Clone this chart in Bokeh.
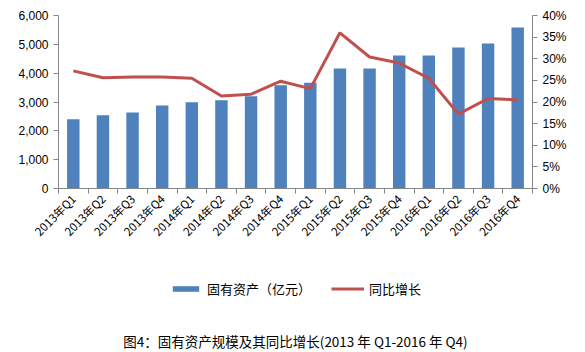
import math
from bokeh.plotting import figure
from bokeh.layouts import column
from bokeh.models import (Range1d, LinearAxis, FixedTicker, NumeralTickFormatter,
                          Legend, LegendItem, Label, ColumnDataSource)
from bokeh.embed import file_html
from bokeh.resources import INLINE

categories = ["2013年Q1", "2013年Q2", "2013年Q3", "2013年Q4",
              "2014年Q1", "2014年Q2", "2014年Q3", "2014年Q4",
              "2015年Q1", "2015年Q2", "2015年Q3", "2015年Q4",
              "2016年Q1", "2016年Q2", "2016年Q3", "2016年Q4"]
assets = [2400, 2540, 2640, 2880, 2990, 3060, 3200, 3580,
          3670, 4160, 4160, 4610, 4610, 4890, 5030, 5580]
growth_pct = [27.2, 25.6, 25.8, 25.8, 25.5, 21.4, 21.8, 24.8,
              23.1, 36.0, 30.4, 29.0, 25.5, 17.2, 20.8, 20.5]
left_ticks = [0, 1000, 2000, 3000, 4000, 5000, 6000]
right_ticks = [0, 5, 10, 15, 20, 25, 30, 35, 40]
bar_name = "固有资产（亿元）"
line_name = "同比增长"
caption = "图4：固有资产规模及其同比增长(2013 年 Q1-2016 年 Q4)"

BAR_COLOR = "#4F81BD"
LINE_COLOR = "#C0504D"
FONT = "Liberation Sans"
CJK = "Noto Sans CJK SC"
AX = "#868686"

n = len(categories)
src = ColumnDataSource(dict(
    x=[i + 0.5 for i in range(n)],
    assets=assets,
    growth=[g / 100 for g in growth_pct],
))

# ---------------- main chart ----------------
p = figure(width=585, height=260, x_range=Range1d(0, n), y_range=Range1d(0, 6000),
           output_backend="svg", toolbar_location=None,
           min_border_left=58, min_border_right=53, min_border_top=15,
           min_border_bottom=72, outline_line_color=None,
           x_axis_type=None, y_axis_type=None)
p.xgrid.visible = False
p.ygrid.visible = False
p.extra_y_ranges = {"pct": Range1d(0, 0.4)}

p.vbar(x="x", top="assets", width=0.42, source=src,
       fill_color=BAR_COLOR, line_color=None)
p.line(x="x", y="growth", source=src, y_range_name="pct",
       line_color=LINE_COLOR, line_width=3)

xaxis = LinearAxis(ticker=FixedTicker(ticks=[i + 0.5 for i in range(n)],
                                      minor_ticks=list(range(n + 1))))
xaxis.major_label_overrides = {i + 0.5: c for i, c in enumerate(categories)}
xaxis.major_tick_line_color = None
xaxis.minor_tick_out = 5
xaxis.minor_tick_in = 0
xaxis.minor_tick_line_color = AX
xaxis.axis_line_color = AX
xaxis.major_label_orientation = math.pi / 4
xaxis.major_label_text_font = CJK
xaxis.major_label_text_font_size = "11.5px"
xaxis.major_label_text_color = "#000000"
xaxis.major_label_standoff = 2
p.add_layout(xaxis, "below")

yl = LinearAxis(ticker=FixedTicker(ticks=left_ticks),
                formatter=NumeralTickFormatter(format="0,0"))
yl.axis_line_color = AX
yl.major_tick_line_color = AX
yl.major_tick_out = 5
yl.major_tick_in = 0
yl.minor_tick_line_color = None
yl.major_label_text_font = FONT
yl.major_label_text_font_size = "12px"
yl.major_label_text_color = "#000000"
p.add_layout(yl, "left")

yr = LinearAxis(y_range_name="pct", ticker=FixedTicker(ticks=[t / 100 for t in right_ticks]),
                formatter=NumeralTickFormatter(format="0%"))
yr.axis_line_color = AX
yr.major_tick_line_color = AX
yr.major_tick_out = 5
yr.major_tick_in = 0
yr.minor_tick_line_color = None
yr.major_label_text_font = FONT
yr.major_label_text_font_size = "12px"
yr.major_label_text_color = "#000000"
p.add_layout(yr, "right")

# ---------------- legend + caption strip ----------------
q = figure(width=585, height=92, x_range=Range1d(0, 1), y_range=Range1d(0, 1),
           output_backend="svg", toolbar_location=None,
           min_border=0, outline_line_color=None,
           x_axis_type=None, y_axis_type=None)
q.xgrid.visible = False
q.ygrid.visible = False
# legend swatches only (placed outside the visible range)
lb = q.vbar(x=[-10], top=[-5], bottom=[-6], width=0.5, fill_color=BAR_COLOR, line_color=None)
ll = q.line(x=[-10, -9], y=[-10, -10], line_color=LINE_COLOR, line_width=3)

legend = Legend(items=[LegendItem(label=bar_name, renderers=[lb]),
                       LegendItem(label=line_name, renderers=[ll])],
                orientation="horizontal", location="top_center",
                glyph_width=33, glyph_height=7, label_standoff=5, spacing=20,
                label_text_font=CJK, label_text_font_size="13px",
                label_text_color="#000000", border_line_color=None,
                background_fill_alpha=0, margin=19, padding=2)
q.add_layout(legend, "center")

q.add_layout(Label(x=0.5, y=12, y_units="screen", text=caption,
                   text_align="center", text_baseline="middle", text_font=CJK,
                   text_font_size="13.5px", text_color="#000000"))

open("out.html", "w").write(file_html(column(p, q, spacing=0), INLINE))
